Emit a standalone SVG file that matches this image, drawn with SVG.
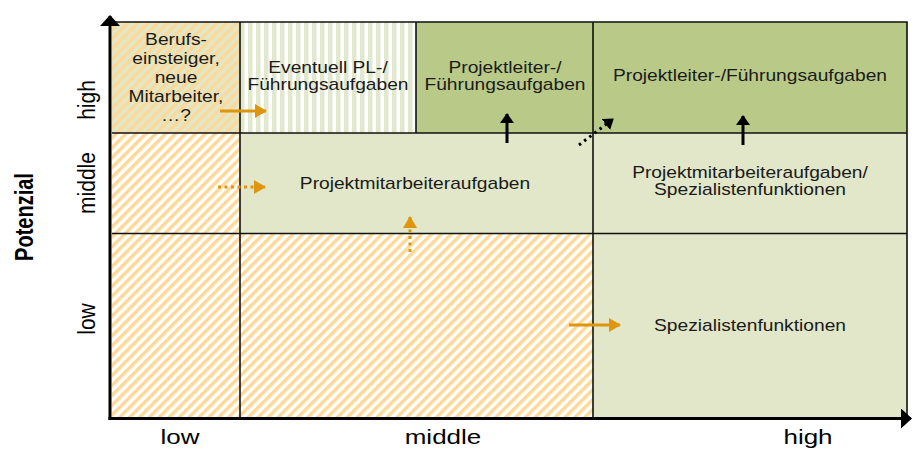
<svg xmlns="http://www.w3.org/2000/svg" width="917" height="450" viewBox="0 0 917 450">
<style>
.t{font-family:"Liberation Sans",Arial,sans-serif;font-size:16px;fill:#1a1a1a;text-anchor:middle}
.ax{font-family:"Liberation Sans",Arial,sans-serif;font-size:20px;fill:#000;text-anchor:middle}
.ay{font-family:"Liberation Sans",Arial,sans-serif;font-size:21px;fill:#000;text-anchor:middle}
.grid{stroke:#111;stroke-width:1.6;fill:none}
.axis{stroke:#000;stroke-width:3;fill:none}
.oa{stroke:#de960e;stroke-width:3;fill:none}
.od{stroke:#de960e;stroke-width:3;fill:none;stroke-dasharray:3 3.5}
.ba{stroke:#000;stroke-width:3;fill:none}
.bd{stroke:#000;stroke-width:3;fill:none;stroke-dasharray:2.5 4}
</style>
<defs>
<pattern id="hatchW" patternUnits="userSpaceOnUse" width="7" height="7" patternTransform="rotate(45)">
<rect width="7" height="7" fill="#ffffff"/>
<rect width="3.5" height="7" fill="#fcd998"/>
</pattern>
<pattern id="hatchG" patternUnits="userSpaceOnUse" width="7" height="7" patternTransform="rotate(45)">
<rect width="7" height="7" fill="#e1e7c8"/>
<rect width="3.5" height="7" fill="#fcd998"/>
</pattern>
<pattern id="vstripe" patternUnits="userSpaceOnUse" width="8" height="8">
<rect width="8" height="8" fill="#ffffff"/>
<rect width="4.5" height="8" fill="#e2e8cd"/>
</pattern>
<marker id="ho" markerUnits="userSpaceOnUse" markerWidth="12" markerHeight="14" refX="11" refY="7" orient="auto" viewBox="0 0 12 14">
<path d="M0,0 L12,7 L0,14 Z" fill="#de960e"/>
</marker>
<marker id="hb" markerUnits="userSpaceOnUse" markerWidth="10" markerHeight="14" refX="9" refY="7" orient="auto" viewBox="0 0 10 14">
<path d="M0,0 L10,7 L0,14 Z" fill="#000"/>
</marker>
<marker id="hax" markerUnits="userSpaceOnUse" markerWidth="11" markerHeight="20" refX="10" refY="10" orient="auto" viewBox="0 0 11 20">
<path d="M0,0 L11,10 L0,20 Z" fill="#000"/>
</marker>
</defs>

<g id="cells">
<g id="cell-high-low"><rect x="112" y="22" width="128" height="111" fill="url(#hatchG)"/>
<text class="t" transform="translate(176,45) scale(1.2,1)"><tspan x="0" y="0">Berufs-</tspan><tspan x="0" y="19">einsteiger,</tspan><tspan x="0" y="38">neue</tspan><tspan x="0" y="57">Mitarbeiter,</tspan><tspan x="0" y="76">…?</tspan></text></g>
<g id="cell-high-mid1"><rect x="240" y="22" width="176" height="111" fill="url(#vstripe)"/>
<text class="t" transform="translate(328,73) scale(1.2,1)"><tspan x="0" y="0">Eventuell PL-/</tspan><tspan x="0" y="17.5">Führungsaufgaben</tspan></text></g>
<g id="cell-high-mid2"><rect x="416" y="22" width="177" height="111" fill="#b9ca88"/>
<text class="t" transform="translate(505,73) scale(1.2,1)"><tspan x="0" y="0">Projektleiter-/</tspan><tspan x="0" y="17.5">Führungsaufgaben</tspan></text></g>
<g id="cell-high-high"><rect x="593" y="22" width="314" height="111" fill="#b9ca88"/>
<text class="t" transform="translate(750,81) scale(1.2,1)">Projektleiter-/Führungsaufgaben</text></g>
<g id="cell-mid-low"><rect x="112" y="133" width="128" height="100" fill="url(#hatchW)"/></g>
<g id="cell-mid-mid"><rect x="240" y="133" width="353" height="100" fill="#e1e7c8"/>
<text class="t" transform="translate(415,188.5) scale(1.2,1)">Projektmitarbeiteraufgaben</text></g>
<g id="cell-mid-high"><rect x="593" y="133" width="314" height="100" fill="#e1e7c8"/>
<text class="t" transform="translate(750,178) scale(1.2,1)"><tspan x="0" y="0">Projektmitarbeiteraufgaben/</tspan><tspan x="0" y="17">Spezialistenfunktionen</tspan></text></g>
<g id="cell-low-low"><rect x="112" y="233" width="128" height="185" fill="url(#hatchW)"/></g>
<g id="cell-low-mid"><rect x="240" y="233" width="353" height="185" fill="url(#hatchW)"/></g>
<g id="cell-low-high"><rect x="593" y="233" width="314" height="185" fill="#e1e7c8"/>
<text class="t" transform="translate(750,331) scale(1.2,1)">Spezialistenfunktionen</text></g>
</g>

<g id="grid">
<path class="grid" d="M112,22 H907 V418 M112,133 H907 M112,233.5 H907 M240,22 V418 M593,22 V418 M416,22 V133"/>
</g>

<g id="axes">
<path class="axis" d="M110,420 V16" marker-end="url(#hax)"/>
<path class="axis" d="M108.5,418.5 H911" marker-end="url(#hax)"/>
<text class="ax" transform="translate(180,444) scale(1.3,1)">low</text>
<text class="ax" transform="translate(443,444) scale(1.3,1)">middle</text>
<text class="ax" transform="translate(808,444) scale(1.3,1)">high</text>
<text class="ay" transform="translate(95,100) scale(1.1,1) rotate(-90)">high</text>
<text class="ay" transform="translate(95,183) scale(1.1,1) rotate(-90)">middle</text>
<text class="ay" transform="translate(95,319) scale(1.1,1) rotate(-90)">low</text>
<text class="ay" style="font-weight:bold;font-size:20px" transform="translate(33,217) scale(1.3,1) rotate(-90)">Potenzial</text>
</g>

<g id="connectors">
<path class="oa" d="M220,111 H266" marker-end="url(#ho)"/>
<path class="od" d="M218,187 H265" marker-end="url(#ho)"/>
<path class="od" d="M410,252 V217" marker-end="url(#ho)"/>
<path class="oa" d="M569,325 H620" marker-end="url(#ho)"/>
<path class="ba" d="M507,143 V114" marker-end="url(#hb)"/>
<path class="ba" d="M743,145 V116" marker-end="url(#hb)"/>
<path class="bd" d="M579,145 L613,119" marker-end="url(#hb)"/>
</g>
</svg>
